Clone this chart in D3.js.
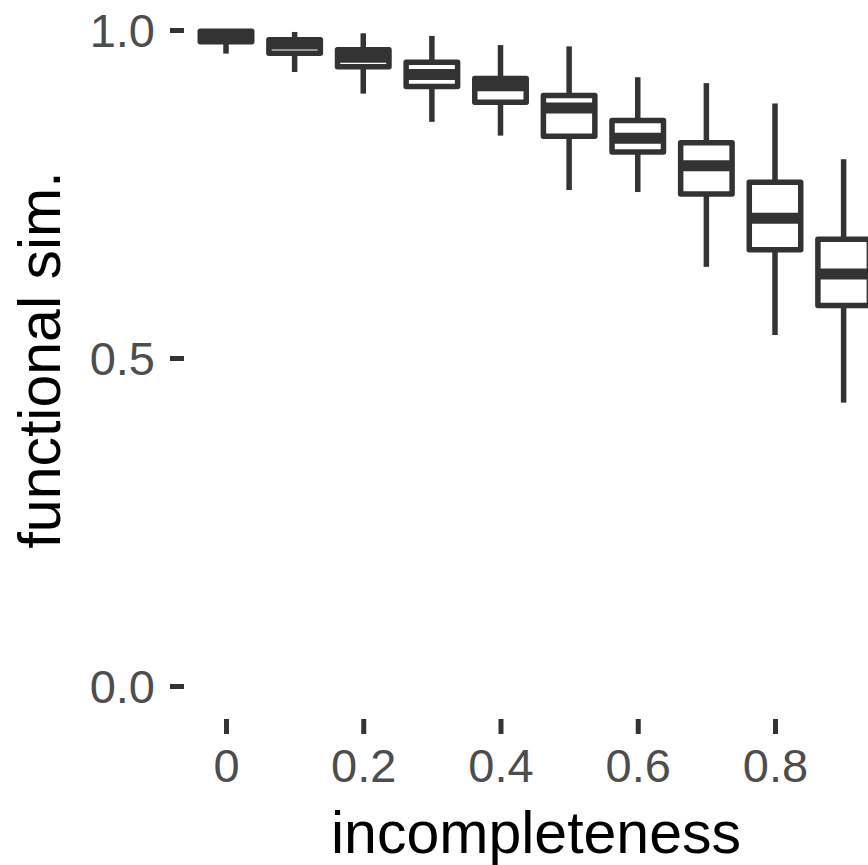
<!DOCTYPE html>
<html>
<head>
<meta charset="utf-8">
<script src="https://cdn.jsdelivr.net/npm/d3@7"></script>
<style>
  html, body { margin: 0; padding: 0; background: #ffffff; }
  svg { display: block; }
  text { font-family: "Liberation Sans", Arial, Helvetica, sans-serif; }
</style>
</head>
<body>
<div id="chart"></div>
<script>
// Incompleteness levels and the five-number summary of functional similarity at each level
const incompleteness = [0, 0.1, 0.2, 0.3, 0.4, 0.5, 0.6, 0.7, 0.8, 0.9];
const whiskerLow  = [0.964, 0.936, 0.903, 0.860, 0.839, 0.756, 0.753, 0.639, 0.535, 0.432];
const quartile1   = [0.982, 0.9645, 0.944, 0.914, 0.890, 0.838, 0.814, 0.750, 0.665, 0.580];
const medians     = [0.991, 0.9787, 0.9585, 0.932, 0.915, 0.881, 0.835, 0.793, 0.713, 0.628];
const quartile3   = [0.998, 0.985, 0.970, 0.951, 0.926, 0.900, 0.862, 0.828, 0.768, 0.681];
const whiskerHigh = [1.000, 0.997, 0.995, 0.991, 0.977, 0.975, 0.928, 0.919, 0.888, 0.803];

const xTicks = [0, 0.2, 0.4, 0.6, 0.8];
const xTickLabels = ["0", "0.2", "0.4", "0.6", "0.8"];
const yTicks = [0, 0.5, 1];
const yTickLabels = ["0.0", "0.5", "1.0"];

const xTitle = "incompleteness";
const yTitle = "functional sim.";

const W = 868, H = 865;
const ink = "#333333";
const labelGrey = "#4d4d4d";
const lineW = 5.5;
const boxWidth = 0.075; // in data units of incompleteness

const svg = d3.select("#chart").append("svg")
  .attr("width", W).attr("height", H);

const x = d3.scaleLinear().domain([0, 0.8]).range([226, 775]);
const y = d3.scaleLinear().domain([0, 1]).range([686, 30]);

const data = incompleteness.map((v, i) => ({
  x: v, lo: whiskerLow[i], q1: quartile1[i], med: medians[i], q3: quartile3[i], hi: whiskerHigh[i]
}));

// Axes: tick marks only, no axis line
const yAxis = d3.axisLeft(y)
  .tickValues(yTicks)
  .tickFormat((d, i) => yTickLabels[i])
  .tickSize(14)
  .tickPadding(15);

const gy = svg.append("g").attr("transform", "translate(184,0)").call(yAxis);
gy.select(".domain").remove();
gy.selectAll(".tick line").attr("stroke", ink).attr("stroke-width", 5);
gy.selectAll(".tick text")
  .attr("fill", labelGrey)
  .style("font-size", "47px")
  .attr("dy", "0.35em");

const xAxis = d3.axisBottom(x)
  .tickValues(xTicks)
  .tickFormat((d, i) => xTickLabels[i])
  .tickSize(15)
  .tickPadding(15);

const gx = svg.append("g").attr("transform", "translate(0,719)").call(xAxis);
gx.select(".domain").remove();
gx.selectAll(".tick line").attr("stroke", ink).attr("stroke-width", 5);
gx.selectAll(".tick text")
  .attr("fill", labelGrey)
  .style("font-size", "47px");

// Boxplots
const boxes = svg.append("g").selectAll("g.box")
  .data(data).join("g").attr("class", "box");

boxes.append("line")
  .attr("x1", d => x(d.x)).attr("x2", d => x(d.x))
  .attr("y1", d => y(d.hi)).attr("y2", d => y(d.q3))
  .attr("stroke", ink).attr("stroke-width", lineW);

boxes.append("line")
  .attr("x1", d => x(d.x)).attr("x2", d => x(d.x))
  .attr("y1", d => y(d.q1)).attr("y2", d => y(d.lo))
  .attr("stroke", ink).attr("stroke-width", lineW);

boxes.append("rect")
  .attr("x", d => x(d.x - boxWidth / 2))
  .attr("width", d => x(d.x + boxWidth / 2) - x(d.x - boxWidth / 2))
  .attr("y", d => y(d.q3))
  .attr("height", d => y(d.q1) - y(d.q3))
  .attr("fill", "#ffffff")
  .attr("stroke", ink).attr("stroke-width", lineW)
  .attr("stroke-linejoin", "round");

boxes.append("line")
  .attr("x1", d => x(d.x - boxWidth / 2)).attr("x2", d => x(d.x + boxWidth / 2))
  .attr("y1", d => y(d.med)).attr("y2", d => y(d.med))
  .attr("stroke", ink).attr("stroke-width", lineW * 2);

// Axis titles
svg.append("text")
  .attr("x", 536).attr("y", 853)
  .attr("text-anchor", "middle")
  .attr("fill", "#000000")
  .style("font-size", "59px")
  .text(xTitle);

svg.append("text")
  .attr("transform", "translate(60,360) rotate(-90)")
  .attr("text-anchor", "middle")
  .attr("fill", "#000000")
  .style("font-size", "59px")
  .text(yTitle);
</script>
</body>
</html>
